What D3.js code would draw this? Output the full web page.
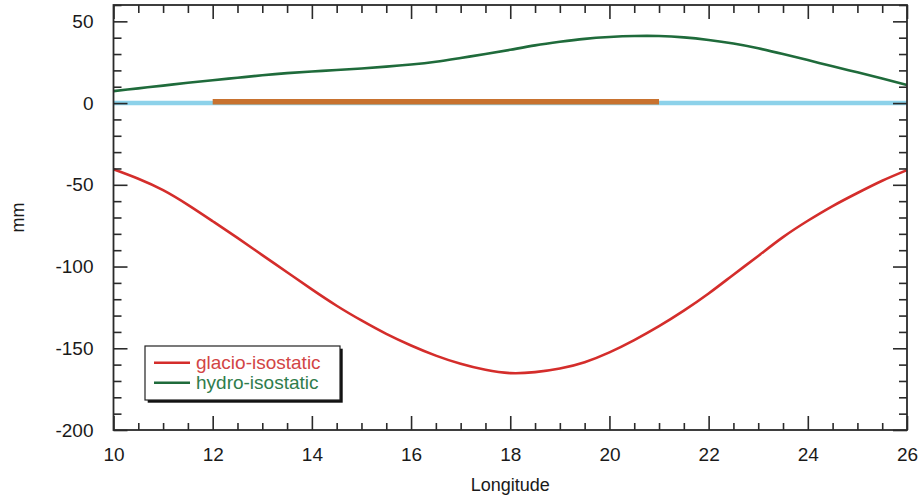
<!DOCTYPE html>
<html><head><meta charset="utf-8">
<script src="https://cdn.jsdelivr.net/npm/d3@7"></script>
<style>body{margin:0;background:#fff}svg{display:block}text{font-family:"Liberation Sans",Arial,Helvetica,sans-serif}</style>
</head><body>
<script>
const longitude = [10,10.5,11,11.5,12,12.5,13,13.5,14,14.5,15,15.5,16,16.5,17,17.5,18,18.5,19,19.5,20,20.5,21,21.5,22,22.5,23,23.5,24,24.5,25,25.5,26];
const glacio = [-40.5,-46.3,-53.3,-62.3,-72.3,-82.5,-93,-103.5,-114,-124,-133,-141.2,-148.3,-154.5,-159.5,-163.2,-165.2,-164.6,-162.4,-158.5,-152.5,-145,-136.5,-127,-116.5,-105,-93.5,-82,-72,-63,-55,-47.5,-41];
const hydro = [7.3,9,10.7,12.4,14,15.5,17,18.3,19.3,20.2,21.2,22.3,23.6,25.3,27.6,30,32.6,35.3,37.5,39.3,40.4,41,41,40.2,38.6,36.4,33.5,30,26.3,22.5,18.8,15,11];
const zeroLine = [[10,0],[26,0]];
const iceBar = [[12,0.8],[21,0.8]];
const xTicks = [10,12,14,16,18,20,22,24,26];
const yTicks = [-200,-150,-100,-50,0,50];
const seriesNames = ["glacio-isostatic","hydro-isostatic"];
const colors = {glacio:"#d42d2b", hydro:"#1f6b3b", zero:"#8dd2ea", ice:"#c8722f", glacioText:"#d24545", hydroText:"#2f7d4c"};

const W=921,H=497;
const svg=d3.select("body").append("svg").attr("width",W).attr("height",H);
const x=d3.scaleLinear().domain([10,26]).range([113.5,907]);
const y=d3.scaleLinear().domain([-200,60]).range([430,5]);
const X0=x.range()[0],X1=x.range()[1],Y0=y.range()[0],Y1=y.range()[1];

const line=d3.line().x(d=>x(d[0])).y(d=>y(d[1]));
const curve=d3.line().x(d=>x(d[0])).y(d=>y(d[1])).curve(d3.curveNatural);

svg.append("path").attr("d",line(zeroLine)).attr("stroke",colors.zero).attr("stroke-width",4.5).attr("fill","none");
svg.append("path").attr("d",line(iceBar)).attr("stroke",colors.ice).attr("stroke-width",5.5).attr("fill","none");
svg.append("path").attr("d",curve(longitude.map((v,i)=>[v,hydro[i]]))).attr("stroke",colors.hydro).attr("stroke-width",2.6).attr("fill","none");
svg.append("path").attr("d",curve(longitude.map((v,i)=>[v,glacio[i]]))).attr("stroke",colors.glacio).attr("stroke-width",2.6).attr("fill","none");

const minorX=d3.range(10,26.001,0.5).filter(v=>Math.abs(v%2)>1e-6);
const minorY=d3.range(-200,60.001,10).filter(v=>Math.abs(v%50)>1e-6);
const axCol="#2a2a2a";
const fmt=d=>String(d);
function styleAxis(g,labels){
  g.select(".domain").remove();
  g.selectAll("line").attr("stroke",axCol).attr("stroke-width",1.6);
  g.selectAll("text").attr("font-size",labels?19:0).attr("fill","#1a1a1a");
}
// bottom
svg.append("g").attr("transform",`translate(0,${Y0})`).call(d3.axisBottom(x).tickValues(xTicks).tickSize(-14).tickPadding(18).tickFormat(fmt)).call(g=>styleAxis(g,true));
svg.append("g").attr("transform",`translate(0,${Y0})`).call(d3.axisBottom(x).tickValues(minorX).tickSize(-7).tickFormat("")).call(g=>styleAxis(g,false));
// top
svg.append("g").attr("transform",`translate(0,${Y1})`).call(d3.axisTop(x).tickValues(xTicks).tickSize(-14).tickFormat("")).call(g=>styleAxis(g,false));
svg.append("g").attr("transform",`translate(0,${Y1})`).call(d3.axisTop(x).tickValues(minorX).tickSize(-8).tickFormat("")).call(g=>styleAxis(g,false));
// left
svg.append("g").attr("transform",`translate(${X0},0)`).call(d3.axisLeft(y).tickValues(yTicks).tickSize(-14).tickPadding(20).tickFormat(fmt)).call(g=>styleAxis(g,true));
svg.append("g").attr("transform",`translate(${X0},0)`).call(d3.axisLeft(y).tickValues(minorY).tickSize(-8).tickFormat("")).call(g=>styleAxis(g,false));
// right
svg.append("g").attr("transform",`translate(${X1},0)`).call(d3.axisRight(y).tickValues(yTicks).tickSize(-14).tickFormat("")).call(g=>styleAxis(g,false));
svg.append("g").attr("transform",`translate(${X1},0)`).call(d3.axisRight(y).tickValues(minorY).tickSize(-8).tickFormat("")).call(g=>styleAxis(g,false));

svg.append("rect").attr("x",X0).attr("y",Y1).attr("width",X1-X0).attr("height",Y0-Y1).attr("fill","none").attr("stroke",axCol).attr("stroke-width",1.8);

// titles
svg.append("text").attr("x",(X0+X1)/2).attr("y",491).attr("text-anchor","middle").attr("font-size",18).attr("fill","#1a1a1a").text("Longitude");
svg.append("text").attr("transform",`translate(24,${(Y0+Y1)/2}) rotate(-90)`).attr("text-anchor","middle").attr("font-size",18).attr("fill","#1a1a1a").text("mm");

// legend
const lg=svg.append("g").attr("transform","translate(145,346)");
lg.append("rect").attr("x",2.7).attr("y",2.7).attr("width",195).attr("height",54).attr("fill","#111");
lg.append("rect").attr("x",0).attr("y",0).attr("width",195).attr("height",54).attr("fill","#fff").attr("stroke","#222").attr("stroke-width",1.2);
const lc=[colors.glacio,colors.hydro], tc=[colors.glacioText,colors.hydroText];
seriesNames.forEach((n,i)=>{
  const cy=16.7+i*20;
  lg.append("line").attr("x1",9).attr("x2",45).attr("y1",cy).attr("y2",cy).attr("stroke",lc[i]).attr("stroke-width",2.4);
  lg.append("text").attr("x",51).attr("y",cy+6.5).attr("font-size",19).attr("fill",tc[i]).text(n);
});
</script>
</body></html>
